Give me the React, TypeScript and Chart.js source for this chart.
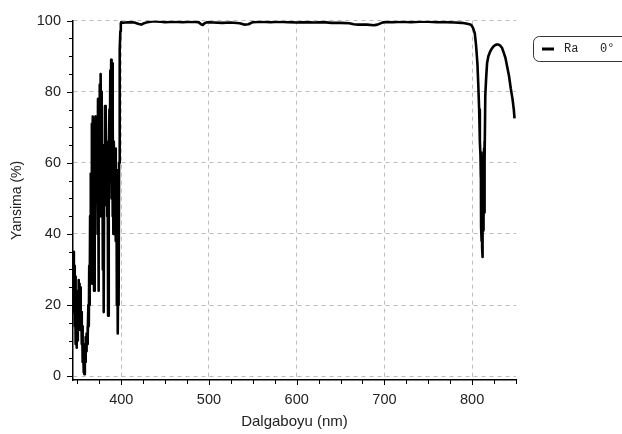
import { useEffect, useRef } from "react";
import { Chart, registerables } from "chart.js";

Chart.register(...registerables);

// Blue edge (noisy region) wavelengths (nm) and reflectance (%)
const blueEdgeNm = [
  345.5, 346, 346.5, 347, 347.5, 348, 348.5, 349, 349.5, 350, 350.5, 351, 351.5, 352, 352.5, 353, 353.5, 354, 354.5, 355,
  355.5, 356, 356.5, 357, 357.5, 358, 358.5, 359, 359.5, 360, 360.5, 361, 361.5, 362, 362.5, 363, 363.5, 364, 364.5, 365,
  365.5, 366, 366.5, 367, 367.5, 368, 368.5, 369, 369.5, 370, 370.5, 371, 371.5, 372, 372.5, 373, 373.5, 374, 374.5, 375,
  375.5, 376, 376.5, 377, 377.5, 378, 378.5, 379, 379.5, 380, 380.5, 381, 381.5, 382, 382.5, 383, 383.5, 384, 384.5, 385,
  385.5, 386, 386.5, 387, 387.5, 388, 388.5, 389, 389.5, 390, 390.5, 391, 391.5, 392, 392.5, 393, 393.5, 394, 394.5, 395,
  395.5, 396, 396.5, 397, 397.5, 398, 398.5, 399, 399.5,
];
const blueEdgeR = [
  35, 18, 31, 14, 28, 9, 20, 8, 17, 10, 24, 13, 27, 15, 26, 17, 25, 13, 18, 9,
  14, 4, 9, 1, 6, 0.5, 8, 4, 11, 7, 12, 9, 14, 11, 20, 14, 31, 20, 45, 31,
  57, 40, 71, 26, 73, 30, 72, 24, 70, 45, 73, 50, 70, 55, 65, 40, 78, 24, 70, 50,
  82, 45, 85, 60, 80, 48, 65, 30, 64, 18, 58, 48, 76, 50, 75, 60, 66, 45, 62, 17,
  55, 48, 75, 60, 86, 55, 89, 50, 88, 45, 72, 40, 66, 45, 63, 50, 64, 38, 58, 20,
  50, 12, 30, 20, 60, 75, 92, 97, 99.3,
];

// High-reflectance plateau
const plateauNm = [
  400, 402, 405, 410, 415, 420, 423, 426, 430, 435, 440, 445, 450, 460, 470, 480, 488, 491, 493, 495,
  498, 505, 515, 525, 535, 540, 545, 550, 560, 570, 580, 590, 600, 610, 620, 630, 640, 650, 660, 665,
  670, 680, 688, 692, 697, 700, 710, 720, 730, 740, 750, 760, 770, 780, 788, 793, 797,
];
const plateauR = [
  99.6, 99.4, 99.5, 99.6, 99.5, 99.1, 98.9, 99.3, 99.6, 99.8, 99.8, 99.7, 99.6, 99.7, 99.6, 99.7, 99.6, 99.0, 98.8, 99.3,
  99.6, 99.5, 99.4, 99.5, 99.3, 98.9, 99.0, 99.6, 99.7, 99.6, 99.7, 99.6, 99.5, 99.6, 99.5, 99.6, 99.4, 99.4, 99.3, 99.0,
  98.9, 98.9, 98.7, 98.9, 99.4, 99.6, 99.6, 99.7, 99.6, 99.7, 99.7, 99.6, 99.6, 99.5, 99.4, 99.2, 99.0,
];

// Red edge and side lobe
const redEdgeNm = [
  799, 801, 803, 804.5, 806, 807, 808, 808.8, 809.5, 809.8, 810, 810.2, 810.4, 810.6, 810.8, 811, 811.2, 811.4, 811.6, 811.8,
  812, 812.2, 812.4, 812.6, 812.8, 813, 813.2, 813.4, 813.6, 813.8, 814, 814.3, 814.6, 815, 816, 817, 818.5, 820, 822, 824,
  826, 828, 830, 832, 834, 836, 838, 840, 842, 844, 846, 847.5, 848.3,
];
const redEdgeR = [
  98.8, 98, 96.5, 93, 88, 82, 75, 66, 62, 56, 63, 42, 62, 40, 61, 38, 60, 36, 58, 33.5,
  55, 40, 62, 41, 63, 42, 62, 44, 64, 46, 63, 66, 60, 79, 84, 88, 90, 91, 92, 92.7,
  93.1, 93.3, 93.3, 93, 92.4, 91, 89.5, 87, 84.5, 81, 78, 75, 72.5,
];

const xTickValues = [350, 375, 400, 425, 450, 475, 500, 525, 550, 575, 600, 625, 650, 675, 700, 725, 750, 775, 800, 825, 850];
const xLabelValues = [400, 500, 600, 700, 800];
const yTickValues = [0, 5, 10, 15, 20, 25, 30, 35, 40, 45, 50, 55, 60, 65, 70, 75, 80, 85, 90, 95, 100];
const yLabelValues = [0, 20, 40, 60, 80, 100];

const seriesLabel = "Ra   0°";
const xTitle = "Dalgaboyu (nm)";
const yTitle = "Yansima (%)";

const FONT = "'Liberation Sans', Arial, sans-serif";

export default function App() {
  const canvasRef = useRef<HTMLCanvasElement | null>(null);

  useEffect(() => {
    document.body.style.margin = "0";
    const canvas = canvasRef.current;
    if (!canvas) return;

    const nm = [...blueEdgeNm, ...plateauNm, ...redEdgeNm];
    const r = [...blueEdgeR, ...plateauR, ...redEdgeR];
    const points = nm.map((x, i) => ({ x, y: r[i] }));

    const decor = {
      id: "decor",
      afterDraw(chart: any) {
        const ctx = chart.ctx as CanvasRenderingContext2D;
        const { left, bottom } = chart.chartArea;
        const xs = chart.scales.x;
        const ys = chart.scales.y;
        ctx.save();
        ctx.strokeStyle = "#000";
        ctx.lineWidth = 1;
        ctx.beginPath();
        for (const v of xTickValues) {
          const px = Math.round(xs.getPixelForValue(v)) + 0.5;
          const len = xLabelValues.includes(v) ? 5 : 4;
          ctx.moveTo(px, bottom);
          ctx.lineTo(px, bottom + len);
        }
        for (const v of yTickValues) {
          const py = Math.round(ys.getPixelForValue(v)) + 0.5;
          const len = yLabelValues.includes(v) ? 6 : 4;
          ctx.moveTo(left - len, py);
          ctx.lineTo(left, py);
        }
        ctx.stroke();

        // legend box
        ctx.beginPath();
        ctx.strokeStyle = "#333";
        ctx.lineWidth = 1;
        (ctx as any).roundRect(533.5, 36.5, 100, 25, 6);
        ctx.stroke();
        ctx.beginPath();
        ctx.strokeStyle = "#000";
        ctx.lineWidth = 3;
        ctx.moveTo(542, 49);
        ctx.lineTo(554, 49);
        ctx.stroke();
        ctx.fillStyle = "#222";
        ctx.font = "12px 'Liberation Mono', 'DejaVu Sans Mono', monospace";
        ctx.textBaseline = "middle";
        ctx.textAlign = "left";
        ctx.fillText(seriesLabel, 564, 49);
        ctx.restore();
      },
    };

    const chart = new Chart(canvas, {
      type: "line",
      data: {
        datasets: [
          {
            label: seriesLabel,
            data: points,
            borderColor: "#000",
            borderWidth: 2.6,
            pointRadius: 0,
            tension: 0,
            borderJoinStyle: "round",
            fill: false,
          },
        ],
      },
      options: {
        animation: false,
        responsive: false,
        parsing: false as any,
        layout: { padding: { left: 0, right: 106, top: 16, bottom: 0 } },
        plugins: {
          legend: { display: false },
          tooltip: { enabled: false },
        },
        scales: {
          x: {
            type: "linear",
            min: 345,
            max: 850,
            afterBuildTicks: (scale: any) => {
              scale.ticks = xTickValues.map((v) => ({ value: v }));
            },
            afterFit: (scale: any) => {
              scale.height = 54;
            },
            ticks: {
              autoSkip: false,
              maxRotation: 0,
              padding: 11,
              color: "#222",
              font: { family: FONT, size: 14.5 },
              callback: (v: any) => (xLabelValues.includes(Number(v)) ? String(v) : ""),
            },
            grid: {
              drawTicks: false,
              color: (c: any) => (c.tick && xLabelValues.includes(c.tick.value) ? "#bdbdbd" : "rgba(0,0,0,0)"),
              lineWidth: 1,
            },
            border: { display: true, color: "#000", width: 1.5, dash: [4, 4] },
            title: {
              display: true,
              text: xTitle,
              color: "#222",
              font: { family: FONT, size: 15 },
              padding: { top: 0, bottom: 3 },
            },
          },
          y: {
            type: "linear",
            min: -1.1,
            max: 100,
            afterBuildTicks: (scale: any) => {
              scale.ticks = yTickValues.map((v) => ({ value: v }));
            },
            afterFit: (scale: any) => {
              scale.width = 73;
            },
            ticks: {
              autoSkip: false,
              padding: 12,
              color: "#222",
              font: { family: FONT, size: 14.5 },
              callback: (v: any) => (yLabelValues.includes(Number(v)) ? String(v) : ""),
            },
            grid: {
              drawTicks: false,
              color: (c: any) => (c.tick && yLabelValues.includes(c.tick.value) ? "#bdbdbd" : "rgba(0,0,0,0)"),
              lineWidth: 1,
            },
            border: { display: true, color: "#000", width: 1.5, dash: [4, 4] },
            title: {
              display: true,
              text: yTitle,
              color: "#222",
              font: { family: FONT, size: 14 },
              padding: { top: 9, bottom: 0 },
            },
          },
        },
      },
      plugins: [decor],
    });

    return () => chart.destroy();
  }, []);

  return (
    <div style={{ width: 622, height: 434 }}>
      <canvas ref={canvasRef} width={622} height={434} />
    </div>
  );
}
